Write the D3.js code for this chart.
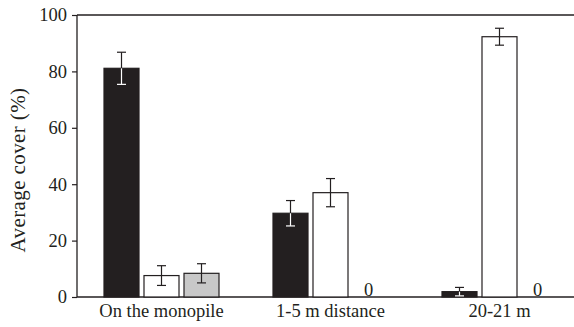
<!DOCTYPE html>
<html>
<head>
<meta charset="utf-8">
<script src="https://cdn.jsdelivr.net/npm/d3@7"></script>
<style>
  body { margin: 0; background: #fff; }
</style>
</head>
<body>
<div id="chart"></div>
<script>
const categories = ['On the monopile', '1-5 m distance', '20-21 m'];
const series = ['s1', 's2', 's3'];
// mean cover per series, null = zero / absent (labelled "0")
const means = [
  [81.1, 7.6, 8.4],
  [29.7, 37.0, null],
  [1.9, 92.3, null]
];
const errors = [
  [5.7, 3.5, 3.4],
  [4.5, 5.0, null],
  [1.5, 3.0, null]
];
const fills = ['#231f20', '#ffffff', '#c8c8c8'];
const yTicks = [0, 20, 40, 60, 80, 100];

const FONT = '"Liberation Serif"';
const INK = '#231f20';

const W = 574, H = 327;
const margin = { top: 15, right: -10, bottom: 30, left: 77 };
const width = W - margin.left - margin.right;
const height = H - margin.top - margin.bottom;

const svg = d3.select('#chart').append('svg')
  .attr('width', W).attr('height', H)
  .style('font-family', FONT);
const g = svg.append('g').attr('transform', `translate(${margin.left},${margin.top})`);

const x0 = d3.scaleBand().domain(categories).range([0, width]).padding(0);
const x1 = d3.scaleBand().domain(series).range([x0.bandwidth() / 2 - 57.5, x0.bandwidth() / 2 + 57.5]).paddingInner(0.125);
const y = d3.scaleLinear().domain([0, 100]).range([height, 0]);

// axes
const yAxis = g.append('g')
  .call(d3.axisLeft(y).tickValues(yTicks).tickSize(5).tickPadding(5));
yAxis.select('.domain').attr('stroke', INK).attr('stroke-width', 1.3).attr('d', `M0,0V${height}`);
yAxis.selectAll('.tick line').attr('stroke', INK).attr('stroke-width', 1.2);
yAxis.selectAll('.tick text').attr('font-size', 18.5).attr('fill', INK).style('font-family', FONT);

g.append('line').attr('x1', 0).attr('x2', W).attr('y1', 0).attr('y2', 0)
  .attr('stroke', INK).attr('stroke-width', 1.3);

const xAxis = g.append('g').attr('transform', `translate(0,${height})`)
  .call(d3.axisBottom(x0).tickSize(0).tickPadding(7));
xAxis.select('.domain').attr('stroke', INK).attr('stroke-width', 1.3).attr('d', `M0,0H${W}`);
xAxis.selectAll('.tick text').attr('font-size', 18.5).attr('fill', INK).style('font-family', FONT);

svg.append('text')
  .attr('transform', `translate(25,${margin.top + height / 2 + 14}) rotate(-90)`)
  .attr('text-anchor', 'middle')
  .attr('font-size', 21)
  .style('font-family', FONT)
  .style('letter-spacing', '0.4px')
  .attr('fill', INK)
  .text('Average cover (%)');

// bars
const groups = g.selectAll('.grp').data(categories).enter().append('g')
  .attr('transform', d => `translate(${x0(d)},0)`);

groups.each(function(cat, i) {
  const grp = d3.select(this);
  series.forEach((s, j) => {
    const v = means[i][j];
    const bx = x1(s);
    const bw = x1.bandwidth();
    if (v === null) {
      grp.append('text').attr('x', bx + bw / 2 - 2).attr('y', height - 1)
        .attr('text-anchor', 'middle').attr('font-size', 18.5)
        .style('font-family', FONT).attr('fill', INK).text('0');
      return;
    }
    grp.append('rect')
      .attr('x', bx).attr('y', y(v))
      .attr('width', bw).attr('height', height - y(v))
      .attr('fill', fills[j]).attr('stroke', INK).attr('stroke-width', 1.2);
    const e = errors[i][j];
    const cx = bx + bw / 2;
    const cap = 4.5;
    const dark = j === 0;
    // upper part
    grp.append('line').attr('x1', cx).attr('x2', cx).attr('y1', y(v + e)).attr('y2', y(v))
      .attr('stroke', INK).attr('stroke-width', 1.2);
    grp.append('line').attr('x1', cx - cap).attr('x2', cx + cap).attr('y1', y(v + e)).attr('y2', y(v + e))
      .attr('stroke', INK).attr('stroke-width', 1.2);
    // lower part (white inside dark bars)
    const lc = dark ? '#ffffff' : INK;
    grp.append('line').attr('x1', cx).attr('x2', cx).attr('y1', y(v)).attr('y2', y(Math.max(v - e, 0)))
      .attr('stroke', lc).attr('stroke-width', 1.2);
    grp.append('line').attr('x1', cx - cap).attr('x2', cx + cap).attr('y1', y(Math.max(v - e, 0))).attr('y2', y(Math.max(v - e, 0)))
      .attr('stroke', lc).attr('stroke-width', 1.2);
  });
});
</script>
</body>
</html>
